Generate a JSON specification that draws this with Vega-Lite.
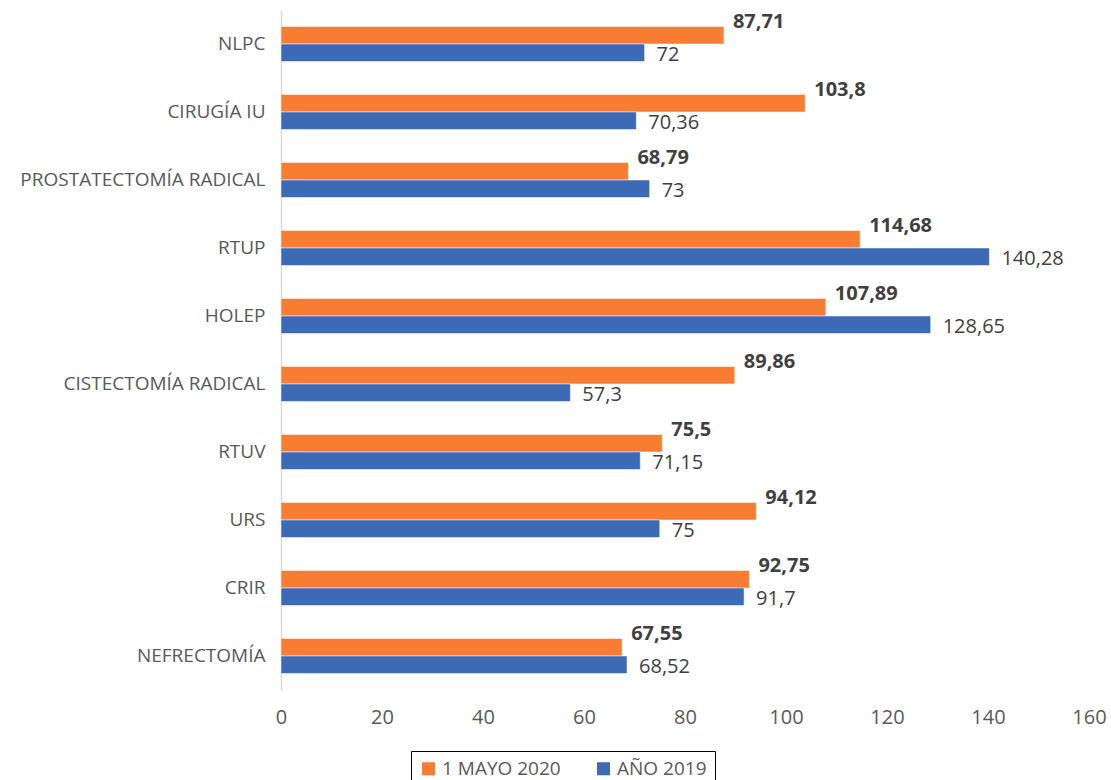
{
  "$schema": "https://vega.github.io/schema/vega-lite/v6.json",
  "width": 808,
  "height": 680,
  "autosize": "none",
  "padding": {"left": 281, "top": 10, "right": 22, "bottom": 90},
  "background": "white",
  "config": {
    "view": {"stroke": null},
    "font": "Open Sans",
    "locale": {"number": {"decimal": ",", "thousands": ".", "grouping": [3], "currency": ["", " €"]}}
  },
  "data": {
    "values": [
      {"proc": "NLPC", "serie": "1 MAYO 2020", "valor": 87.71},
      {"proc": "NLPC", "serie": "AÑO 2019", "valor": 72},
      {"proc": "CIRUGÍA IU", "serie": "1 MAYO 2020", "valor": 103.8},
      {"proc": "CIRUGÍA IU", "serie": "AÑO 2019", "valor": 70.36},
      {"proc": "PROSTATECTOMÍA RADICAL", "serie": "1 MAYO 2020", "valor": 68.79},
      {"proc": "PROSTATECTOMÍA RADICAL", "serie": "AÑO 2019", "valor": 73},
      {"proc": "RTUP", "serie": "1 MAYO 2020", "valor": 114.68},
      {"proc": "RTUP", "serie": "AÑO 2019", "valor": 140.28},
      {"proc": "HOLEP", "serie": "1 MAYO 2020", "valor": 107.89},
      {"proc": "HOLEP", "serie": "AÑO 2019", "valor": 128.65},
      {"proc": "CISTECTOMÍA RADICAL", "serie": "1 MAYO 2020", "valor": 89.86},
      {"proc": "CISTECTOMÍA RADICAL", "serie": "AÑO 2019", "valor": 57.3},
      {"proc": "RTUV", "serie": "1 MAYO 2020", "valor": 75.5},
      {"proc": "RTUV", "serie": "AÑO 2019", "valor": 71.15},
      {"proc": "URS", "serie": "1 MAYO 2020", "valor": 94.12},
      {"proc": "URS", "serie": "AÑO 2019", "valor": 75},
      {"proc": "CRIR", "serie": "1 MAYO 2020", "valor": 92.75},
      {"proc": "CRIR", "serie": "AÑO 2019", "valor": 91.7},
      {"proc": "NEFRECTOMÍA", "serie": "1 MAYO 2020", "valor": 67.55},
      {"proc": "NEFRECTOMÍA", "serie": "AÑO 2019", "valor": 68.52}
    ]
  },
  "encoding": {
    "y": {
      "field": "proc",
      "type": "nominal",
      "sort": ["NLPC", "CIRUGÍA IU", "PROSTATECTOMÍA RADICAL", "RTUP", "HOLEP", "CISTECTOMÍA RADICAL", "RTUV", "URS", "CRIR", "NEFRECTOMÍA"],
      "scale": {"paddingInner": 0.485, "paddingOuter": 0.2425},
      "axis": {
        "title": null,
        "domainColor": "#d9d9d9",
        "domainWidth": 1.5,
        "ticks": false,
        "labelPadding": 16,
        "labelLimit": 0,
        "labelFontSize": 19,
        "labelColor": "#595959",
        "labelFont": "Open Sans"
      }
    },
    "yOffset": {
      "field": "serie",
      "type": "nominal",
      "sort": ["1 MAYO 2020", "AÑO 2019"],
      "scale": {"paddingInner": 0, "paddingOuter": 0}
    },
    "x": {
      "field": "valor",
      "type": "quantitative",
      "scale": {"domain": [0, 160], "nice": false},
      "axis": {
        "title": null,
        "values": [0, 20, 40, 60, 80, 100, 120, 140, 160],
        "grid": false,
        "domain": false,
        "ticks": false,
        "labelPadding": 17,
        "labelFontSize": 20,
        "labelColor": "#595959",
        "labelFont": "Open Sans",
        "labelFlush": false
      }
    }
  },
  "layer": [
    {
      "mark": {"type": "bar", "stroke": "white", "strokeWidth": 0.5},
      "encoding": {
        "color": {
          "field": "serie",
          "type": "nominal",
          "scale": {"domain": ["1 MAYO 2020", "AÑO 2019"], "range": ["#F97C33", "#3D6AB4"]},
          "legend": {
            "title": null,
            "orient": "none",
            "legendX": 130,
            "legendY": 741,
            "direction": "horizontal",
            "columns": 2,
            "strokeColor": "black",
            "padding": 8,
            "symbolType": "square",
            "symbolSize": 170,
            "symbolStrokeWidth": 0,
            "labelFontSize": 19,
            "labelColor": "#595959",
            "labelFont": "Open Sans",
            "columnPadding": 33,
            "labelOffset": 4
          }
        }
      }
    },
    {
      "transform": [{"filter": "datum.serie == '1 MAYO 2020'"}],
      "mark": {"type": "text", "align": "left", "baseline": "middle", "dx": 9, "dy": -13, "fontSize": 20, "fontWeight": "bold", "color": "#404040", "font": "Open Sans"},
      "encoding": {"text": {"field": "valor", "type": "quantitative", "format": "~r"}}
    },
    {
      "transform": [{"filter": "datum.serie == 'AÑO 2019'"}],
      "mark": {"type": "text", "align": "left", "baseline": "middle", "dx": 12, "dy": 2, "fontSize": 20, "color": "#404040", "font": "Open Sans"},
      "encoding": {"text": {"field": "valor", "type": "quantitative", "format": "~r"}}
    }
  ]
}
